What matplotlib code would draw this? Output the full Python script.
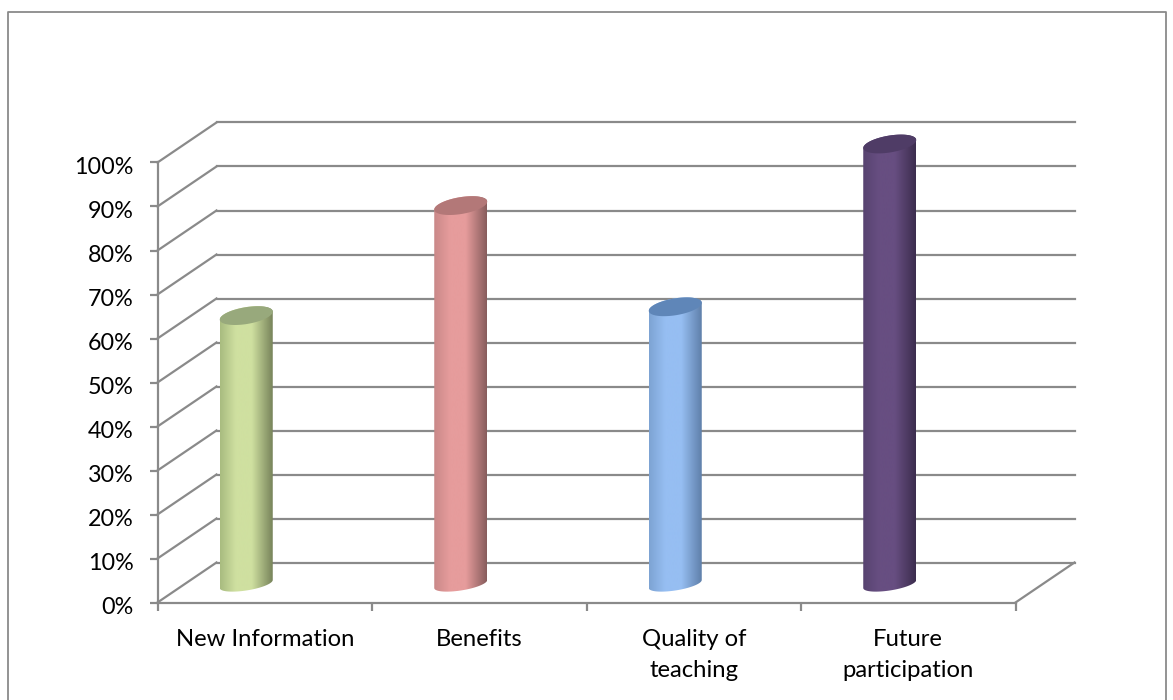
"""3D style cylinder chart, four categories on a percent axis"""
import numpy as np
import matplotlib
matplotlib.use('Agg')
from matplotlib import pyplot as plt
from matplotlib.colors import LinearSegmentedColormap
from matplotlib.lines import Line2D
from matplotlib.patches import Polygon
from matplotlib.transforms import Affine2D

categories = ['New Information', 'Benefits', 'Quality of\nteaching', 'Future\nparticipation']
values = [61, 86, 63, 100]
y_ticks = [0, 10, 20, 30, 40, 50, 60, 70, 80, 90, 100]
y_labels = ['0%', '10%', '20%', '30%', '40%', '50%', '60%', '70%', '80%', '90%', '100%']

# left edge, middle, right edge, top cap
bar_colors = [
    ('#a8bb80', '#cfe0a0', '#77835a', '#98a97c'),
    ('#c98888', '#e69c9c', '#875c5c', '#b37878'),
    ('#7da3d3', '#96bef2', '#5c7ca6', '#5f86b8'),
    ('#574370', '#674e81', '#3c2d4e', '#4f3c66'),
]

W, H = 1173, 700
GRID = '#8a8a8a'
plt.rcParams['font.family'] = ['Lato', 'DejaVu Sans']

fig = plt.figure(figsize=(W / 100, H / 100), dpi=100)

# outer frame, its bottom edge is cut off by the picture
frame_x = [7.5 / W, 7.5 / W, 1165.5 / W, 1165.5 / W]
frame_y = [0, 1 - 11.5 / H, 1 - 11.5 / H, 0]
fig.add_artist(Line2D(frame_x, frame_y, color=GRID, lw=1.3, transform=fig.transFigure))

# the axes is the front plane of the box
ax = fig.add_axes([157.5 / W, 1 - 602.5 / H, 858 / W, 440 / H])
ax.set_xlim(0, 4)
ax.set_ylim(0, 100)
ax.patch.set_visible(False)
for side in ['top', 'right']:
    ax.spines[side].set_visible(False)
for side in ['left', 'bottom']:
    ax.spines[side].set_color(GRID)
    ax.spines[side].set_linewidth(1.6)

ax.set_yticks(y_ticks)
ax.set_yticklabels(y_labels)
ax.set_xticks(range(5))
ax.set_xticklabels([])
ax.set_xticks([i + 0.5 for i in range(len(categories))], categories, minor=True)
ax.tick_params(axis='both', which='major', color=GRID, width=1.6, length=6, labelsize=16.8, pad=11)
ax.tick_params(axis='x', which='minor', length=0, labelsize=17.2, pad=19)
for label in ax.get_xticklabels(minor=True):
    label.set_linespacing(1.62)
    label.set_multialignment('center')
for label in ax.get_yticklabels():
    label.set_transform(label.get_transform() + Affine2D().translate(0, -2.5))

# back plane sits up and to the right of the front plane
back = ax.transData + Affine2D().translate(59, 40)
for v in y_ticks:
    ax.plot([0, 4], [v, v], color=GRID, lw=1.6, transform=back, clip_on=False, zorder=1)
    start = ax.transData.transform((0, v))
    side_x, side_y = ax.transAxes.inverted().transform([start, start + [59, 40]]).T
    ax.plot(side_x, side_y, color=GRID, lw=1.6, transform=ax.transAxes, clip_on=False, zorder=1)

# floor edge on the right
corner = ax.transData.transform((4, 0))
side_x, side_y = ax.transAxes.inverted().transform([corner, corner + [59, 40]]).T
ax.plot(side_x, side_y, color=GRID, lw=1.6, transform=ax.transAxes, clip_on=False, zorder=1)

# cylinders, shifted into the middle of the box depth
px_x = 4 / 858
px_y = 100 / 440
half_w = 26.5 * px_x
tilt = 4 * px_y
minor_r = 8.5 * px_y
base_r = 6.5 * px_y
shift = ax.transData + Affine2D().translate(-18.5, 18.5)

for i, (value, cols) in enumerate(zip(values, bar_colors)):
    cx = i + 0.5
    left, mid, right, cap = cols
    cmap = LinearSegmentedColormap.from_list(
        'cyl', [(0, left), (0.3, mid), (0.6, mid), (1, right)])

    t_low = np.linspace(np.pi, 2 * np.pi, 40)
    t_up = np.linspace(0, np.pi, 40)
    low_x = cx + half_w * np.cos(t_low)
    low_y = tilt * np.cos(t_low) + base_r * np.sin(t_low)
    up_x = cx + half_w * np.cos(t_up)
    up_y = value + tilt * np.cos(t_up) + minor_r * np.sin(t_up)
    body_xy = np.column_stack([np.r_[low_x, up_x], np.r_[low_y, up_y]])
    body = Polygon(body_xy, closed=True, facecolor='none', edgecolor='none', transform=shift, zorder=3)
    ax.add_patch(body)

    grad = np.linspace(0, 1, 256).reshape(1, -1)
    img = ax.imshow(grad, cmap=cmap, aspect='auto', interpolation='bilinear',
                    extent=[cx - half_w, cx + half_w, -10, 115], transform=shift, zorder=3)
    img.set_clip_path(body)
    img.set_clip_box(fig.bbox)

    t_all = np.linspace(0, 2 * np.pi, 80)
    cap_xy = np.column_stack([cx + half_w * np.cos(t_all),
                              value + tilt * np.cos(t_all) + minor_r * np.sin(t_all)])
    ax.add_patch(Polygon(cap_xy, closed=True, facecolor=cap, edgecolor='none',
                         transform=shift, clip_on=False, zorder=4))

ax.set_xlim(0, 4)
ax.set_ylim(0, 100)

fig.savefig('out.png', dpi=100)
